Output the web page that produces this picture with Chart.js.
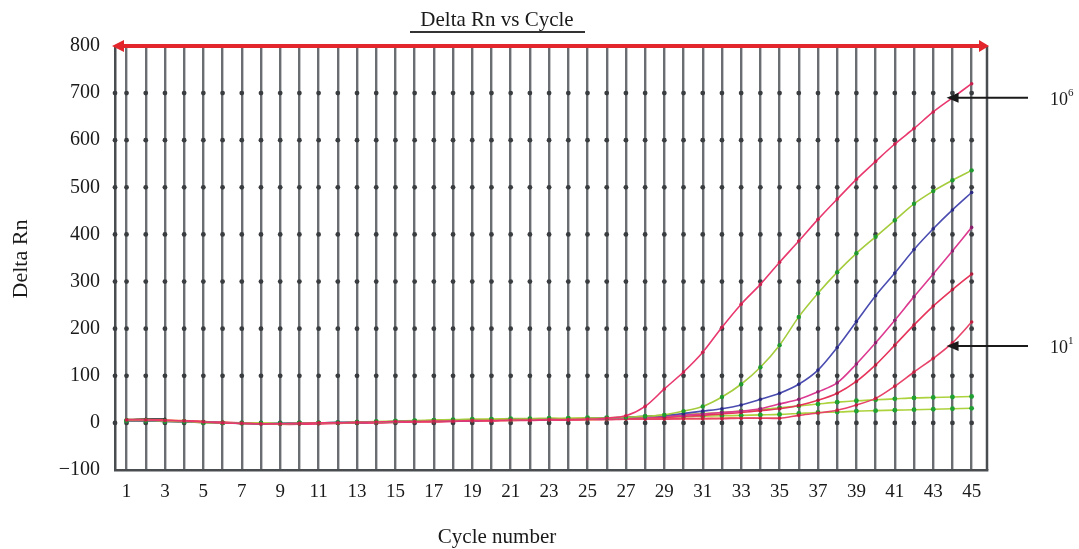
<!DOCTYPE html>
<html>
<head>
<meta charset="utf-8">
<script src="https://cdn.jsdelivr.net/npm/chart.js@4/dist/chart.umd.min.js"></script>
<style>
  html, body { margin: 0; padding: 0; background: #fff; }
  #wrap { width: 1079px; height: 549px; }
</style>
</head>
<body>
<div id="wrap"><canvas id="grafico" width="1079" height="549"></canvas></div>
<script>
// ciclos (eixo x)
const cycles = [1,2,3,4,5,6,7,8,9,10,11,12,13,14,15,16,17,18,19,20,21,22,23,24,25,26,27,28,29,30,31,32,33,34,35,36,37,38,39,40,41,42,43,44,45];
const yTicks = [-100,0,100,200,300,400,500,600,700,800];

// curvas de amplificação
const s1e6 = [6,6,5,4,2,0,-1,-2,-2,-1,0,0,1,2,3,3,4,4,5,5,6,6,7,7,8,10,
  15,35,72,108,150,203,252,294,341,386,432,475,517,555,592,625,660,690,720];
const s2 = [5,5,4,3,1,0,-1,-1,-2,-1,0,0,1,2,3,4,5,6,6,7,7,8,8,9,9,10,
  12,14,17,25,35,55,82,118,165,225,275,320,360,395,430,465,492,515,536];
const s3 = [4,4,3,2,1,0,-1,-2,-1,-1,0,1,1,2,3,4,4,5,5,6,7,7,8,8,9,10,
  12,14,16,20,25,30,38,50,63,82,112,160,215,270,318,368,412,452,489];
const s4 = [5,5,4,3,2,0,-1,-2,-2,-1,-1,0,1,1,2,3,4,4,5,6,6,7,7,8,8,9,
  11,12,14,16,19,22,25,30,40,50,66,85,125,170,218,268,316,365,415];
const s5 = [6,5,5,4,2,1,-1,-2,-3,-2,-1,0,0,1,2,3,3,4,5,5,6,6,7,7,8,9,
  10,11,12,14,16,19,22,26,30,37,48,63,88,123,165,208,248,283,316];
const s6e1 = [6,6,5,4,3,1,0,-2,-3,-3,-2,-1,0,0,1,2,2,3,4,4,5,5,6,6,7,7,
  8,8,8,9,9,9,10,10,10,16,21,27,38,52,78,108,137,170,214];
// curvas planas (verdes)
const g1 = [5,5,4,3,1,0,0,-1,-1,0,0,1,2,3,4,5,6,7,8,8,9,9,10,10,11,11,
  12,14,16,18,20,22,25,28,32,36,40,44,47,49,51,53,54,55,56];
const g2 = [4,4,3,2,1,0,-1,-1,-1,0,0,0,1,2,3,4,5,5,6,7,7,8,8,9,9,10,
  10,11,12,13,14,15,16,17,18,20,22,23,25,26,27,28,29,30,31];
// linhas de base
const o1 = [7,7,6,5,3,1,0,-1,-2,-2,-1,0,1,1,2,3,3,4,4,5,5,6,6,7,7,8,8,8,9,9,9,10,10,10,10];
const k1 = [7,8,8,null,null,null,null,null,null,null,null,null,null,null,null,4,5,5,null,null,null,null,null,8,9,9];

const serif = "'Liberation Serif', 'Times New Roman', serif";
const pts = arr => arr.map((v, i) => ({ x: cycles[i], y: v }));

function serie(dados, cor, corPonto, raio) {
    return {
        data: pts(dados),
        borderColor: cor,
        backgroundColor: corPonto,
        pointBackgroundColor: corPonto,
        pointBorderWidth: 0,
        pointRadius: raio,
        borderWidth: 1.6,
        tension: 0.3,
        spanGaps: false
    };
}

// pontos nas intersecções da grade, linha vermelha do topo, títulos e setas
const decoracao = {
    id: 'decoracao',
    beforeDatasetsDraw(chart) {
        const { ctx, scales: { x, y }, chartArea: a } = chart;
        ctx.save();
        ctx.fillStyle = '#3a3d40';
        const xs = [a.left].concat(cycles.map(c => x.getPixelForValue(c)));
        xs.forEach(px => {
            yTicks.forEach(v => {
                if (v === 800 || v === -100) return;
                ctx.beginPath();
                ctx.arc(px, y.getPixelForValue(v), 2.4, 0, Math.PI * 2);
                ctx.fill();
            });
        });
        ctx.restore();
    },
    afterDraw(chart) {
        const { ctx, scales: { x, y }, chartArea: a } = chart;
        ctx.save();
        // borda direita
        ctx.strokeStyle = '#4a4d50';
        ctx.lineWidth = 2.5;
        ctx.beginPath();
        ctx.moveTo(a.right, a.top);
        ctx.lineTo(a.right, a.bottom);
        ctx.stroke();
        // linha vermelha com setas
        ctx.strokeStyle = '#e3262b';
        ctx.fillStyle = '#e3262b';
        ctx.lineWidth = 4;
        ctx.beginPath();
        ctx.moveTo(a.left + 4, a.top);
        ctx.lineTo(a.right - 4, a.top);
        ctx.stroke();
        ctx.beginPath();
        ctx.moveTo(a.left - 3, a.top);
        ctx.lineTo(a.left + 9, a.top - 6);
        ctx.lineTo(a.left + 9, a.top + 6);
        ctx.closePath();
        ctx.fill();
        ctx.beginPath();
        ctx.moveTo(a.right + 2, a.top);
        ctx.lineTo(a.right - 8, a.top - 6);
        ctx.lineTo(a.right - 8, a.top + 6);
        ctx.closePath();
        ctx.fill();

        // título
        ctx.fillStyle = '#1a1a1a';
        ctx.font = '21px ' + serif;
        ctx.textAlign = 'center';
        ctx.textBaseline = 'middle';
        ctx.fillText('Delta Rn vs Cycle', 497, 20);
        ctx.strokeStyle = '#333';
        ctx.lineWidth = 1.8;
        ctx.beginPath();
        ctx.moveTo(410, 32);
        ctx.lineTo(585, 32);
        ctx.stroke();

        // títulos dos eixos
        ctx.font = '21px ' + serif;
        ctx.fillText('Cycle number', 497, 537);
        ctx.save();
        ctx.translate(21, 259);
        ctx.rotate(-Math.PI / 2);
        ctx.font = '22px ' + serif;
        ctx.fillText('Delta Rn', 0, 0);
        ctx.restore();

        // setas de anotação
        const setas = [[43.8, 690, '6'], [43.8, 163, '1']];
        setas.forEach(([cx, cy, exp]) => {
            const px = x.getPixelForValue(cx);
            const py = y.getPixelForValue(cy);
            ctx.strokeStyle = '#1a1a1a';
            ctx.fillStyle = '#1a1a1a';
            ctx.lineWidth = 2;
            ctx.beginPath();
            ctx.moveTo(px + 6, py);
            ctx.lineTo(1028, py);
            ctx.stroke();
            ctx.beginPath();
            ctx.moveTo(px - 2, py);
            ctx.lineTo(px + 10, py - 5);
            ctx.lineTo(px + 10, py + 5);
            ctx.closePath();
            ctx.fill();
            ctx.font = '18px ' + serif;
            ctx.textAlign = 'left';
            ctx.fillText('10', 1050, py + 2);
            ctx.font = '11px ' + serif;
            ctx.fillText(exp, 1068, py - 5);
        });
        ctx.restore();
    }
};

const canvas = document.getElementById('grafico');
new Chart(canvas, {
    type: 'line',
    data: {
        datasets: [
            serie(s1e6, '#e8386e', '#c8204c', 1.8),
            serie(s2, '#a4cc3c', '#1f9a2e', 2.2),
            serie(s3, '#4a4cb0', '#2a2a80', 1.8),
            serie(s4, '#dc3a90', '#8a2070', 1.8),
            serie(s5, '#e6345a', '#b01c3c', 1.8),
            serie(s6e1, '#e8446a', '#c02040', 1.8),
            serie(g1, '#acd23c', '#1fa032', 2.4),
            serie(g2, '#acd23c', '#1fa032', 2.4),
            serie(o1, '#f06a2a', '#d04a1a', 0),
            serie(k1, '#1a1a1a', '#1a1a1a', 1.5)
        ]
    },
    options: {
        responsive: false,
        animation: false,
        layout: { padding: { top: 46, right: 92, left: 0, bottom: 0 } },
        plugins: { legend: { display: false }, tooltip: { enabled: false }, title: { display: false } },
        scales: {
            x: {
                type: 'linear',
                min: 0.4,
                max: 45.8,
                afterFit: s => { s.height = 79; },
                grid: { color: '#6a6e72', lineWidth: 2.4, drawTicks: false },
                border: { color: '#4a4d50', width: 2.5 },
                ticks: {
                    stepSize: 1,
                    includeBounds: false,
                    autoSkip: false,
                    maxRotation: 0,
                    padding: 11,
                    color: '#1a1a1a',
                    font: { family: serif, size: 19 },
                    callback: v => (Number.isInteger(v) && v % 2 === 1) ? String(v) : ''
                }
            },
            y: {
                min: -100,
                max: 800,
                afterFit: s => { s.width = 115; },
                grid: { display: false },
                border: { color: '#4a4d50', width: 2.5 },
                ticks: {
                    stepSize: 100,
                    padding: 7,
                    color: '#1a1a1a',
                    font: { family: serif, size: 20 },
                    callback: v => v < 0 ? '\u2212' + Math.abs(v) : String(v)
                }
            }
        }
    },
    plugins: [decoracao]
});
</script>
</body>
</html>
